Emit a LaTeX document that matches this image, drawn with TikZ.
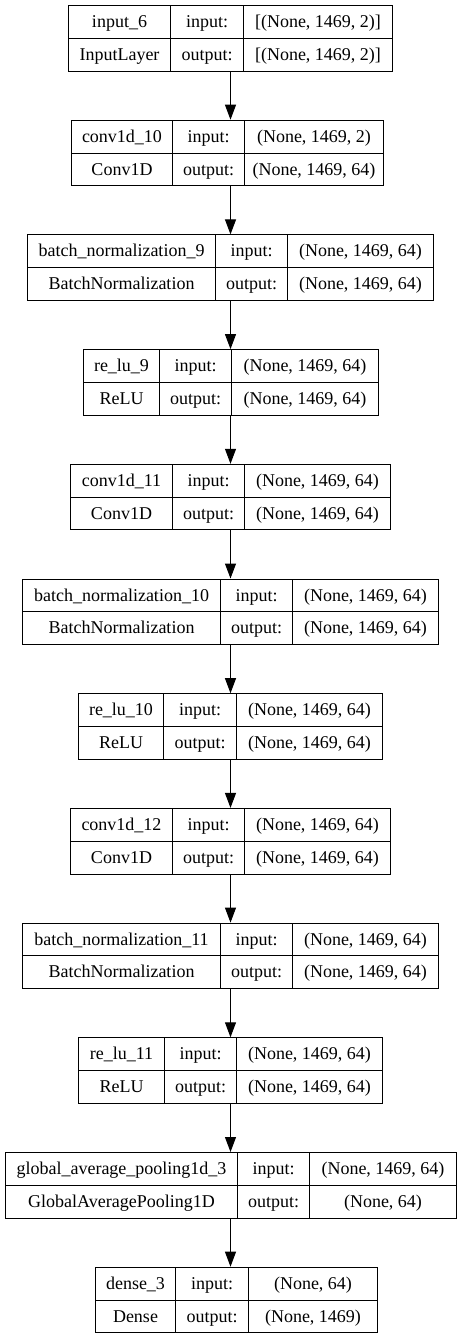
\documentclass[tikz,border=0pt]{standalone}
\usepackage{fontspec}
\setmainfont{Liberation Serif}
\usetikzlibrary{arrows.meta,positioning,calc}

\tikzset{
  zelle/.style={draw=black, line width=1pt, inner sep=0pt, anchor=north west, minimum height=32.8pt, text height=15.2pt, text depth=4pt, font=\fontsize{18}{20}\selectfont},
  pfeil/.style={-{Triangle[length=15pt,width=11pt]}, line width=1pt}
}

\begin{document}
\begin{tikzpicture}[x=1pt,y=-1pt]
\useasboundingbox (0,0) rectangle (461,1339);
%Achse, auf der alle Pfeile liegen
\coordinate (ax) at (230.5,0);
%Nr/Name/Typ/Eingang/Ausgang/x-Werte der Spalten
\foreach \i/\name/\typ/\ein/\aus/\xa/\xb/\xc/\xd in {
 1/input\_6/InputLayer/{[(None, 1469, 2)]}/{[(None, 1469, 2)]}/68/170/243/392,
 2/conv1d\_10/Conv1D/{(None, 1469, 2)}/{(None, 1469, 64)}/71/172/244/383,
 3/batch\_normalization\_9/BatchNormalization/{(None, 1469, 64)}/{(None, 1469, 64)}/27/215/287/433,
 4/re\_lu\_9/ReLU/{(None, 1469, 64)}/{(None, 1469, 64)}/83/159/231/378,
 5/conv1d\_11/Conv1D/{(None, 1469, 64)}/{(None, 1469, 64)}/70/172/244/390,
 6/batch\_normalization\_10/BatchNormalization/{(None, 1469, 64)}/{(None, 1469, 64)}/22/220/292/438,
 7/re\_lu\_10/ReLU/{(None, 1469, 64)}/{(None, 1469, 64)}/78/163/236/382,
 8/conv1d\_12/Conv1D/{(None, 1469, 64)}/{(None, 1469, 64)}/70/172/244/390,
 9/batch\_normalization\_11/BatchNormalization/{(None, 1469, 64)}/{(None, 1469, 64)}/22/220/292/438,
 10/re\_lu\_11/ReLU/{(None, 1469, 64)}/{(None, 1469, 64)}/78/164/236/382,
 11/global\_average\_pooling1d\_3/GlobalAveragePooling1D/{(None, 1469, 64)}/{(None, 64)}/5/237/309/456,
 12/dense\_3/Dense/{(None, 64)}/{(None, 1469)}/95/175/248/377}{
  \pgfmathsetmacro{\oben}{5+114.7*(\i-1)}
  \pgfmathsetmacro{\mitte}{\oben+32.8}
  \pgfmathsetmacro{\wa}{\xb-\xa}
  \pgfmathsetmacro{\wb}{\xc-\xb}
  \pgfmathsetmacro{\wc}{\xd-\xc}
  \node[zelle,minimum width=\wa pt] (n\i) at (\xa,\oben) {\name};
  \node[zelle,minimum width=\wa pt] (t\i) at (\xa,\mitte) {\typ};
  \node[zelle,minimum width=\wb pt] (e\i) at (\xb,\oben) {input:};
  \node[zelle,minimum width=\wb pt] (a\i) at (\xb,\mitte) {output:};
  \node[zelle,minimum width=\wc pt] (ie\i) at (\xc,\oben) {\ein};
  \node[zelle,minimum width=\wc pt] (oe\i) at (\xc,\mitte) {\aus};
  %Pfeil von der vorigen Schicht
  \ifnum\i>1
    \pgfmathtruncatemacro{\vor}{\i-1}
    \draw[pfeil] (t\vor.south -| ax) -- (n\i.north -| ax);
  \fi
}
\end{tikzpicture}
\end{document}
